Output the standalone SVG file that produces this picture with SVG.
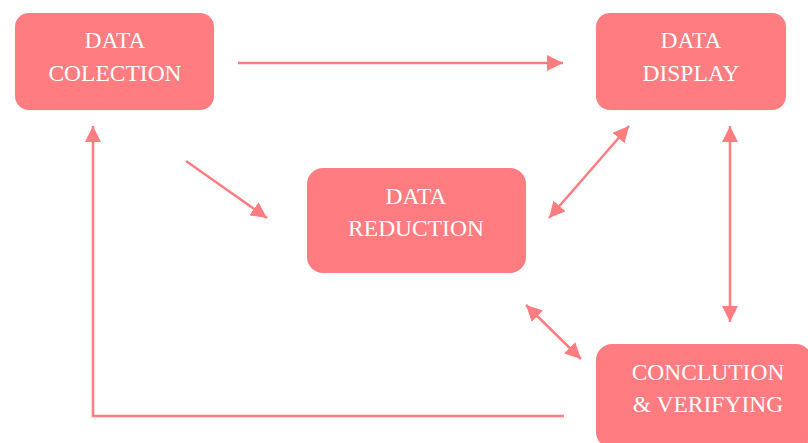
<svg xmlns="http://www.w3.org/2000/svg" width="808" height="443" viewBox="0 0 808 443">
<style>
.box{fill:#FF7C80;}
.lbl{font-family:'Liberation Serif','Times New Roman','DejaVu Serif',serif;font-size:23.5px;fill:#FFFFFF;text-anchor:middle;}
.con{stroke:#FF7C80;stroke-width:2.5;fill:none;}
</style>
<defs>
<marker id="ah" viewBox="0 0 16 16" refX="16" refY="8" markerWidth="16" markerHeight="16" markerUnits="userSpaceOnUse" orient="auto-start-reverse">
<path d="M0,0 L16,8 L0,16 Z" fill="#FF7C80"/>
</marker>
</defs>
<rect width="808" height="443" fill="#FFFFFF"/>
<g id="connectors">
<line class="con" x1="238" y1="63" x2="563" y2="63" marker-end="url(#ah)"/>
<line class="con" x1="186" y1="161" x2="267" y2="218" marker-end="url(#ah)"/>
<line class="con" x1="629" y1="126" x2="549" y2="218" marker-start="url(#ah)" marker-end="url(#ah)"/>
<line class="con" x1="730" y1="126" x2="730" y2="322" marker-start="url(#ah)" marker-end="url(#ah)"/>
<line class="con" x1="526" y1="305" x2="581" y2="359" marker-start="url(#ah)" marker-end="url(#ah)"/>
<polyline class="con" points="564,416 93,416 93,126" marker-end="url(#ah)"/>
</g>
<g id="data-collection">
<rect class="box" x="15" y="13" width="199" height="97" rx="14"/>
<text class="lbl" x="115" y="48">DATA</text>
<text class="lbl" x="115" y="81">COLECTION</text>
</g>
<g id="data-display">
<rect class="box" x="596" y="13" width="190" height="97" rx="14"/>
<text class="lbl" x="691" y="48">DATA</text>
<text class="lbl" x="691" y="81">DISPLAY</text>
</g>
<g id="data-reduction">
<rect class="box" x="307" y="168" width="219" height="105" rx="16"/>
<text class="lbl" x="416" y="204">DATA</text>
<text class="lbl" x="416" y="236">REDUCTION</text>
</g>
<g id="conclusion">
<rect class="box" x="596" y="344" width="216" height="104" rx="16"/>
<text class="lbl" x="708" y="380">CONCLUTION</text>
<text class="lbl" x="708" y="412">&amp; VERIFYING</text>
</g>
</svg>
